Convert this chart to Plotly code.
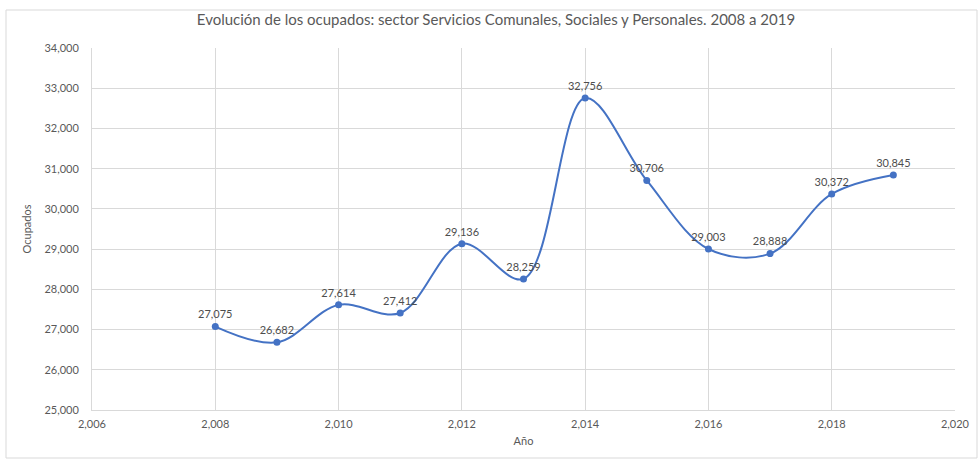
import plotly.graph_objects as go

years = [2008, 2009, 2010, 2011, 2012, 2013, 2014, 2015, 2016, 2017, 2018, 2019]
ocupados = [27075, 26682, 27614, 27412, 29136, 28259, 32756, 30706, 29003, 28888, 30372, 30845]
labels = [f"{v:,}" for v in ocupados]

title_text = "Evolución de los ocupados: sector Servicios Comunales, Sociales y Personales. 2008 a 2019"

W, H = 978, 459
L, R, T, B = 92, 955, 48, 410

def px(x):
    return (x - L) / (R - L)

def py(y):
    return (B - y) / (B - T)

font_family = "Lato, Open Sans, Arial"

fig = go.Figure()
fig.add_trace(go.Scatter(
    x=years, y=ocupados, mode="lines+markers+text",
    line=dict(color="#4472C4", width=2, shape="spline", smoothing=1.0),
    marker=dict(color="#4472C4", size=7),
    text=labels, textposition="top center",
    textfont=dict(size=11, color="#4D4D4D", family=font_family),
    cliponaxis=False, hoverinfo="x+y",
))

fig.update_layout(
    width=W, height=H,
    margin=dict(l=L, r=W - R, t=T, b=H - B),
    paper_bgcolor="white", plot_bgcolor="white",
    showlegend=False,
    title=dict(text=title_text, x=496 / W, xanchor="center", y=1 - 20 / H, yanchor="middle",
               font=dict(size=15, color="#595959", family=font_family)),
    font=dict(family=font_family, color="#595959"),
    xaxis=dict(range=[2006, 2020], dtick=2, tick0=2006, tickformat=",d",
               showgrid=True, gridcolor="#D9D9D9", gridwidth=1,
               showline=True, linecolor="#D9D9D9", zeroline=False, automargin=False,
               ticks="", ticklabelstandoff=4, tickfont=dict(size=11, color="#595959"),
               title=dict(text="Año", font=dict(size=11, color="#595959"), standoff=8)),
    yaxis=dict(range=[25000, 34000], dtick=1000, tickformat=",d",
               showgrid=True, gridcolor="#D9D9D9", gridwidth=1,
               showline=True, linecolor="#D9D9D9", zeroline=False, automargin=False,
               ticks="", ticklabelstandoff=10, tickfont=dict(size=11, color="#595959"),
               title=dict(text="Ocupados", font=dict(size=11, color="#595959"), standoff=10)),
    shapes=[dict(type="rect", xref="paper", yref="paper",
                 x0=px(6), x1=px(977), y0=py(458), y1=py(10),
                 line=dict(color="#D9D9D9", width=1), fillcolor="rgba(0,0,0,0)", layer="below")],
)

fig.write_html("out.html", config={"displayModeBar": False},
               post_script="document.body.style.margin='0';document.body.style.padding='0';")
